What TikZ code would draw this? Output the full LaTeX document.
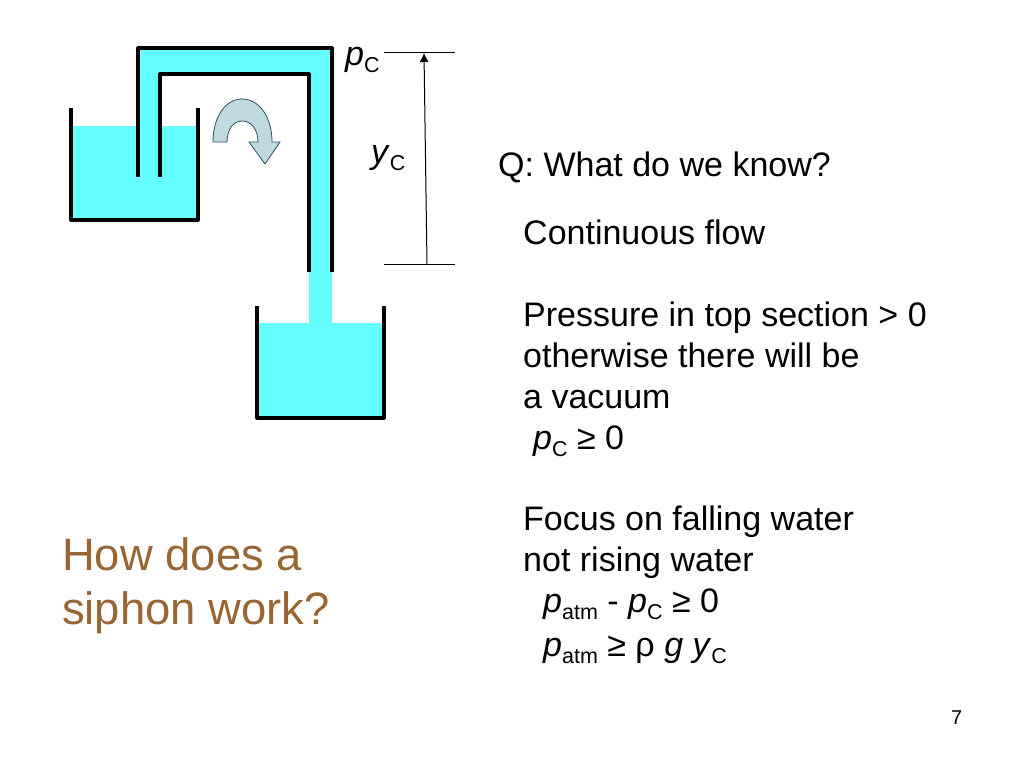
\documentclass[tikz,border=0pt]{standalone}
\usepackage{fontspec}
\setmainfont{Liberation Sans}
\usetikzlibrary{arrows.meta, positioning}
\definecolor{waterblue}{HTML}{66FFFF}
\definecolor{flowblue}{HTML}{BFD9E0}
\definecolor{flowline}{HTML}{2F4F5F}
\definecolor{titlebrown}{HTML}{996633}
\newcommand{\lowtxt}[1]{\raisebox{-7pt}{\fontsize{21.5pt}{22pt}\selectfont #1}}
\newcommand{\pC}{\textit{p}\lowtxt{C}}
\newcommand{\yC}{\textit{y}\lowtxt{C}}
\newcommand{\patm}{\textit{p}\lowtxt{atm}}
\tikzset{
  wall/.style={line width=3.2pt, black, line join=round},
  water/.style={fill=waterblue, draw=none},
  dimline/.style={line width=1pt, black},
  bodytext/.style={inner sep=0pt, anchor=base west, font=\fontsize{34pt}{41pt}\selectfont},
  titletext/.style={inner sep=0pt, anchor=base west, text=titlebrown, font=\fontsize{45.4pt}{54pt}\selectfont}
}
\begin{document}
\begin{tikzpicture}[x=1pt, y=-1pt]
\useasboundingbox (0,0) rectangle (1024,768);

% water
\fill[water] (71,126) rectangle (198,220);
\fill[water] (138,48) rectangle (160,177);
\fill[water] (138,48) rectangle (332,74);
\fill[water] (309,48) rectangle (332,323);
\fill[water] (257,323) rectangle (384,418);

% tanks and tube
\draw[wall] (71,108) -- (71,220) -- (198,220) -- (198,108);
\draw[wall] (257,306) -- (257,418) -- (384,418) -- (384,306);
\draw[wall] (138,177) -- (138,48) -- (332,48) -- (332,272);
\draw[wall] (160,177) -- (160,74) -- (309,74) -- (309,272);

% flow arrow
\draw[fill=flowblue, draw=flowline, line width=0.8pt, line join=miter]
  (213,142) .. controls (213,116) and (226,99) .. (242,99)
  .. controls (260,99) and (272,118) .. (272,142)
  -- (280,142) -- (265,164) -- (249,142) -- (258,142)
  .. controls (258,129) and (251,121) .. (242,121)
  .. controls (233,121) and (227,130) .. (227,142) -- cycle;

% height mark
\coordinate (topL) at (384,53);
\coordinate (topR) at (455,53);
\coordinate (botL) at (384,264);
\coordinate (botR) at (455,264);
\coordinate (dimTop) at (424,53);
\coordinate (dimBot) at (427,264);
\draw[dimline] (topL) -- (topR);
\draw[dimline] (botL) -- (botR);
\draw[dimline, -{Latex[length=9pt,width=9pt]}] (dimBot) -- (dimTop);

\node[bodytext] (pClabel) at (345,65) {\pC};
\node[bodytext] (yClabel) at (371,163) {\yC};

% text column
\node[bodytext] (question) at (498,176) {Q: What do we know?};
\node[bodytext] (flow) at (523,244) {Continuous flow};
\node[bodytext, below=82pt of flow.base west, anchor=base west] (pressure) {Pressure in top section > 0};
\node[bodytext, below=41pt of pressure.base west, anchor=base west] (otherwise) {otherwise there will be};
\node[bodytext, below=41pt of otherwise.base west, anchor=base west] (vacuum) {a vacuum};
\node[bodytext, below=41pt of vacuum.base west, anchor=base west, xshift=10pt] (pCzero) {\pC{} ≥ 0};
\node[bodytext] (focus) at (523,530) {Focus on falling water};
\node[bodytext, below=41pt of focus.base west, anchor=base west] (rising) {not rising water};
\node[bodytext, below=41pt of rising.base west, anchor=base west, xshift=20pt] (diff) {\patm{} - \pC{} ≥ 0};
\node[bodytext, below=44pt of diff.base west, anchor=base west] (result) {\patm{} ≥ ρ \textit{g} \yC};

% title and page number
\node[titletext] (title) at (62,570) {How does a};
\node[titletext, below=54pt of title.base west, anchor=base west] (titleb) {siphon work?};
\node[inner sep=0pt, anchor=base west, font=\fontsize{20pt}{24pt}\selectfont] (pagenum) at (951,724) {7};
\end{tikzpicture}
\end{document}
